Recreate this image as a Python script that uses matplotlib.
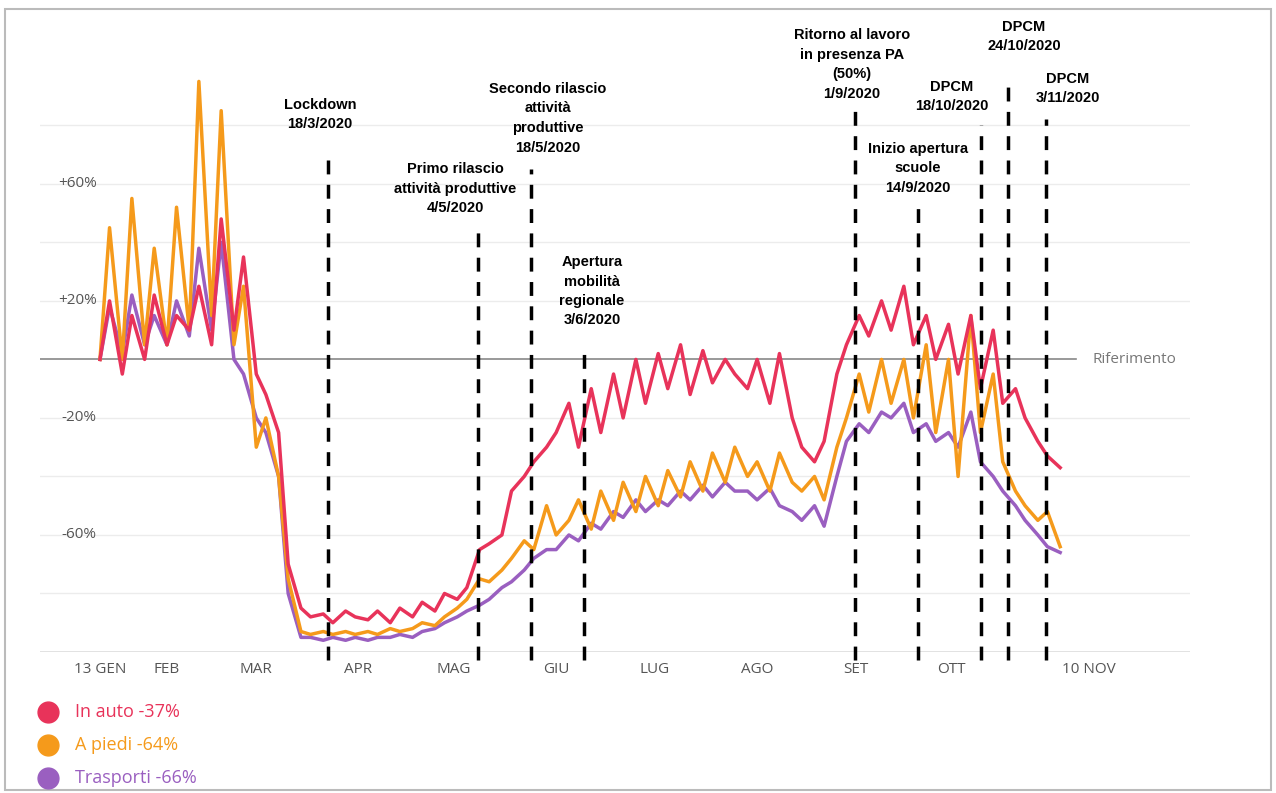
import numpy as np
import matplotlib.pyplot as plt
from matplotlib.patches import Rectangle
from matplotlib.lines import Line2D

plt.rcParams['font.family'] = ['Liberation Sans', 'DejaVu Sans']

# days since 13 Jan 2020, two samples per week
days = [int(k * 3.5) for k in range(87)]

auto = [0, 20, -5, 15, 0, 22,
        5, 15, 10, 25, 5, 48, 10, 35,
        -5, -12, -25, -70, -85, -88, -87, -90, -86,
        -88, -89, -86, -90, -85, -88, -83, -86, -80,
        -82, -78, -65, -63, -60, -45, -40, -35, -30,
        -25, -15, -30, -10, -25, -5, -20, 0,
        -15, 2, -10, 5, -12, 3, -8, 0, -5,
        -10, 0, -15, 2, -20, -30, -35, -28,
        -5,
        5, 15, 8, 20, 10, 25, 5, 15,
        0, 12, -5, 15, -10, 10, -15, -10, -20,
        -28, -33, -37]
piedi = [0, 45, 0, 55, 5, 38,
         5, 52, 10, 95, 15, 85, 5, 25,
         -30, -20, -40, -75, -93, -94, -93, -94, -93,
         -94, -93, -94, -92, -93, -92, -90, -91, -88,
         -85, -82, -75, -76, -72, -68, -62, -65, -50,
         -60, -55, -48, -58, -45, -55, -42, -52,
         -40, -50, -38, -47, -35, -45, -32, -42, -30,
         -40, -35, -45, -32, -42, -45, -40, -48,
         -30,
         -20, -5, -18, 0, -15, 0, -20, 5,
         -25, 0, -40, 15, -25, -5, -35, -45, -50,
         -55, -52, -64]
trasporti = [0, 18, 2, 22, 5, 15,
             5, 20, 8, 38, 10, 40, 0, -5,
             -20, -25, -40, -80, -95, -95, -96, -95, -96,
             -95, -96, -95, -95, -94, -95, -93, -92, -90,
             -88, -86, -84, -82, -78, -76, -72, -68, -65,
             -65, -60, -62, -56, -58, -52, -54, -48,
             -52, -48, -50, -45, -48, -43, -47, -42, -45,
             -45, -48, -44, -50, -52, -55, -50, -57,
             -40,
             -28, -22, -25, -18, -20, -15, -25, -22,
             -28, -25, -30, -18, -35, -40, -45, -50, -55,
             -60, -64, -66]

month_pos = [0, 21, 49, 81, 111, 143, 174, 206, 237, 267, 310]
month_lab = ['13 GEN', 'FEB', 'MAR', 'APR', 'MAG', 'GIU', 'LUG', 'AGO', 'SET', 'OTT', '10 NOV']

event_day = [71.5, 118.5, 135.1, 151.7, 236.7, 256.4, 276.2, 284.6, 296.6]
event_top = [70, 46, 65, 4, 87, 53, 80, 95.6, 82]
event_txt = ['Lockdown\n18/3/2020',
             'Primo rilascio\nattività produttive\n4/5/2020',
             'Secondo rilascio\nattività\nproduttive\n18/5/2020',
             'Apertura\nmobilità\nregionale\n3/6/2020',
             'Ritorno al lavoro\nin presenza PA\n(50%)\n1/9/2020',
             'Inizio apertura\nscuole\n14/9/2020',
             'DPCM\n18/10/2020',
             'DPCM\n24/10/2020',
             'DPCM\n3/11/2020']
txt_px = [(320, 98), (455, 162), (548, 82), (592, 255), (852, 28),
          (918, 142), (952, 80), (1024, 20), (1068, 72)]

red, orange, purple = '#e8335a', '#f59a1b', '#9a5fc0'

fig = plt.figure(figsize=(12.76, 7.93), dpi=100)
ax = fig.add_axes([40 / 1276, 1 - 652 / 793, 1150 / 1276, 632 / 793])
ax.set_xlim(-18.8, 341.7)
ax.set_ylim(-100, 116)
for s in ax.spines.values():
    s.set_visible(False)
ax.set_xticks([]); ax.set_yticks([])

for g in [-80, -60, -40, -20, 20, 40, 60, 80]:
    ax.axhline(g, color='#ececec', lw=1, zorder=0)
ax.axhline(-100, color='#dddddd', lw=1.2, zorder=0)
ax.plot([-18.8, 306], [0, 0], color='#888888', lw=1.2, zorder=1)
ax.text(311, 0, 'Riferimento', color='#777777', fontsize=11, va='center', family=['Open Sans'])
for v in [60, 20, -20, -60]:
    ax.text(-1, v, f'{v:+d}%', ha='right', va='center', fontsize=11, color='#555555', family=['Open Sans'])
for p, l in zip(month_pos, month_lab):
    ax.text(p, -103.5, l, ha='center', va='top', fontsize=11, color='#555555', family=['Open Sans'], clip_on=False)

ax.plot(days, trasporti, color=purple, lw=2.5, zorder=3)
ax.plot(days, piedi, color=orange, lw=2.5, zorder=4)
ax.plot(days, auto, color=red, lw=2.5, zorder=5)

for d, t in zip(event_day, event_top):
    ax.plot([d, d], [-102.7, t], color='black', lw=2.5, dashes=(4, 3), clip_on=False, zorder=6)
for (px, py), t in zip(txt_px, event_txt):
    fig.text(px / 1276, 1 - py / 793, t, ha='center', va='top', fontsize=10.5,
             fontweight='bold', linespacing=1.5)

for i, (lab, c) in enumerate([('In auto -37%', red), ('A piedi -64%', orange), ('Trasporti -66%', purple)]):
    y = 1 - (712 + 33 * i) / 793
    fig.add_artist(Line2D([48 / 1276], [y], marker='o', markersize=15, color=c, transform=fig.transFigure))
    fig.text(75 / 1276, y, lab, color=c, fontsize=13, va='center', family=['Open Sans'])

fig.patches.append(Rectangle((0.004, 0.004), 0.992, 0.985, fill=False, ec='#bbbbbb', lw=1.5,
                             transform=fig.transFigure))
fig.savefig('out.png', dpi=100)
